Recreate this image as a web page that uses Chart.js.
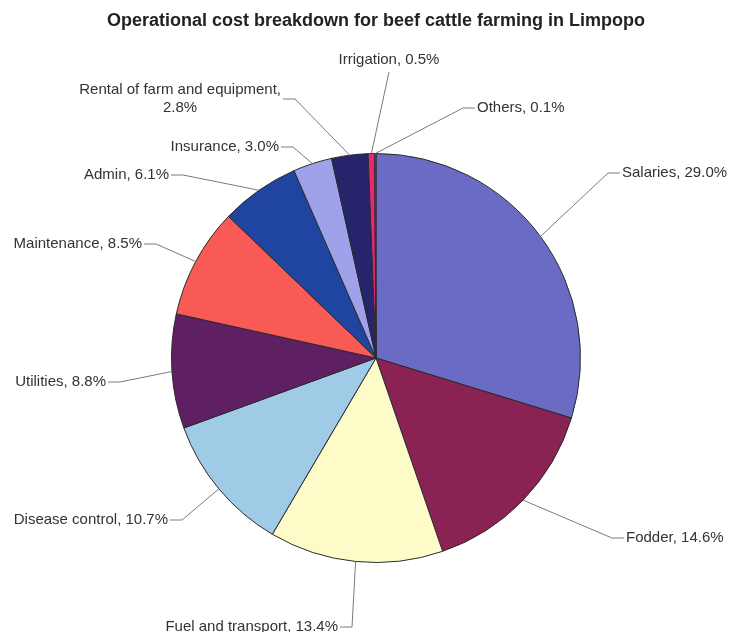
<!DOCTYPE html>
<html>
<head>
<meta charset="utf-8">
<script src="https://cdn.jsdelivr.net/npm/chart.js@4.4.1/dist/chart.umd.min.js"></script>
<style>
  html, body { margin: 0; padding: 0; background: #fff; }
  #wrap { width: 731px; height: 632px; }
</style>
</head>
<body>
<div id="wrap"><canvas id="costCanvas" width="731" height="632"></canvas></div>
<script>
// cost shares, percent
var categories = ["Salaries", "Fodder", "Fuel and transport", "Disease control", "Utilities",
                  "Maintenance", "Admin", "Insurance", "Rental of farm and equipment",
                  "Irrigation", "Others"];
var shares = [29.0, 14.6, 13.4, 10.7, 8.8, 8.5, 6.1, 3.0, 2.8, 0.5, 0.1];
var sliceColors = ["#6b6bc6", "#8a2353", "#fdfcc9", "#9fcbe7", "#5e1f63", "#f85a55",
                   "#1f45a0", "#9fa2ea", "#26246a", "#e8267a", "#e8267a"];

// where each leader line bends, as offset from the pie centre; dir = side the text sits on
var labelSpots = [
    {dx: 232, dy: -185, dir: 1},
    {dx: 236, dy: 180, dir: 1},
    {dx: -24, dy: 269, dir: -1},
    {dx: -194, dy: 162, dir: -1},
    {dx: -256, dy: 24, dir: -1},
    {dx: -220, dy: -114, dir: -1},
    {dx: -193, dy: -183, dir: -1},
    {dx: -83, dy: -211, dir: -1},
    {dx: -81, dy: -259, dir: -1},
    {dx: 13, dy: -286, dir: 0},
    {dx: 87, dy: -250, dir: 1}
];

var labelFont = "15px 'Liberation Sans', Arial, sans-serif";

var leaderLabels = {
    id: "leaderLabels",
    afterDatasetsDraw: function(chart) {
        var ctx = chart.ctx;
        var meta = chart.getDatasetMeta(0);
        ctx.save();
        ctx.font = labelFont;
        ctx.lineWidth = 1;
        meta.data.forEach(function(arc, i) {
            var p = arc.getProps(["x", "y", "startAngle", "endAngle", "outerRadius"], true);
            var mid = (p.startAngle + p.endAngle) / 2;
            var sx = p.x + Math.cos(mid) * p.outerRadius;
            var sy = p.y + Math.sin(mid) * p.outerRadius;
            var spot = labelSpots[i];
            var ex = p.x + spot.dx, ey = p.y + spot.dy;
            var tx = ex + spot.dir * 12;

            ctx.strokeStyle = "#7a7a7a";
            ctx.beginPath();
            ctx.moveTo(sx, sy);
            ctx.lineTo(ex, ey);
            if (spot.dir !== 0) ctx.lineTo(tx, ey);
            ctx.stroke();

            var text = categories[i] + ", " + shares[i].toFixed(1) + "%";
            var lines = text.length > 30 ? [categories[i] + ",", shares[i].toFixed(1) + "%"] : [text];
            ctx.fillStyle = "#333";
            ctx.textBaseline = "middle";

            if (spot.dir === 0) {
                ctx.textAlign = "center";
                ctx.fillText(text, ex, ey - 12);
                return;
            }
            var w = Math.max.apply(null, lines.map(function(l) { return ctx.measureText(l).width; }));
            var lh = 18;
            var top = ey - (lines.length - 1) * lh / 2;
            var left = spot.dir > 0 ? tx + 2 : tx - 2 - w;
            ctx.textAlign = "center";
            lines.forEach(function(l, k) {
                ctx.fillText(l, left + w / 2, top + k * lh);
            });
        });
        ctx.restore();
    }
};

var costChart = new Chart(document.getElementById("costCanvas"), {
    type: "pie",
    data: {
        labels: categories,
        datasets: [{
            data: shares,
            backgroundColor: sliceColors,
            borderColor: "#2a2a2a",
            borderWidth: 1
        }]
    },
    options: {
        responsive: false,
        animation: false,
        layout: {
            padding: {left: 21, right: 0, top: 0, bottom: 69}
        },
        plugins: {
            legend: {display: false},
            tooltip: {enabled: false},
            title: {
                display: true,
                text: "Operational cost breakdown for beef cattle farming in Limpopo",
                color: "#222",
                font: {family: "'Liberation Sans', Arial, sans-serif", size: 18, weight: "bold"},
                padding: {top: 10, bottom: 121.4}
            }
        }
    },
    plugins: [leaderLabels]
});
</script>
</body>
</html>
